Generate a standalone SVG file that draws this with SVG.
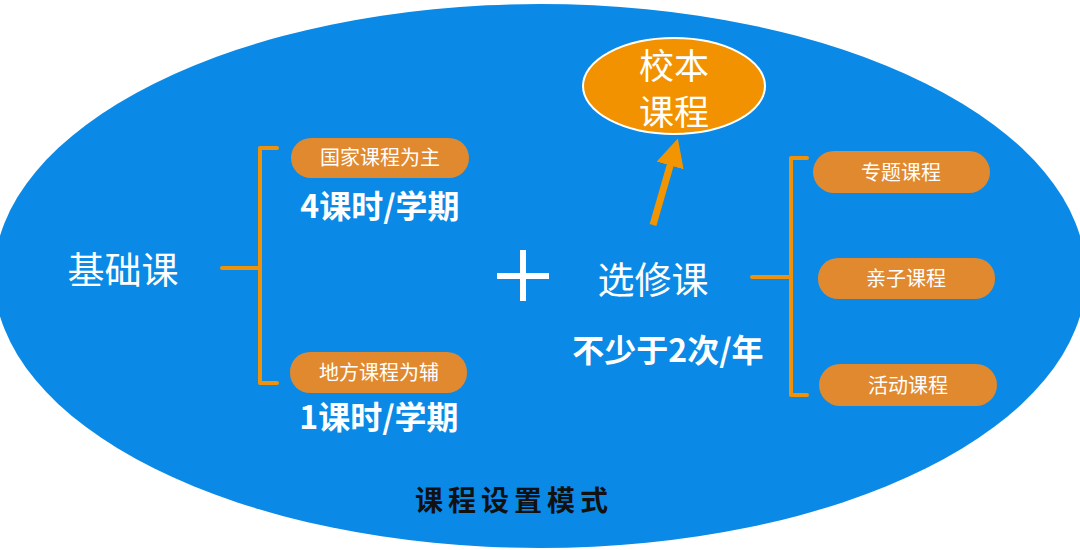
<svg xmlns="http://www.w3.org/2000/svg" width="1080" height="550" viewBox="0 0 1080 550">
<style>
.t{font-family:"Noto Sans CJK SC","Liberation Sans",sans-serif;fill:#fff;text-anchor:middle}
.pill{fill:#E1892E}
.br{fill:none;stroke:#F0910A;stroke-width:4;stroke-linejoin:round;stroke-linecap:round}
</style>
<defs>
<marker id="ah" markerWidth="4" markerHeight="4" refX="2" refY="2" orient="auto" markerUnits="strokeWidth">
<path d="M0,0 L4,2 L0,4 Z" fill="#F39500"/>
</marker>
</defs>
<rect width="1080" height="550" fill="#fff"/>
<ellipse id="bg" cx="540" cy="276" rx="546" ry="272" fill="#0A8AE6"/>
<g id="connectors">
<path class="br" d="M222,268 H258 M277,148 H260 V383 H277"/>
<path class="br" d="M752,277 H791 M807,158 H791 V395 H807"/>
<line x1="653" y1="225" x2="674" y2="152" stroke="#F39500" stroke-width="7" marker-end="url(#ah)"/>
</g>
<g id="jichu"><text class="t" x="123" y="284" font-size="37">基础课</text></g>
<g id="guojia">
<rect class="pill" x="291" y="138" width="178" height="40" rx="20"/>
<text class="t" x="380" y="165" font-size="20">国家课程为主</text>
</g>
<text class="t" x="380" y="218" font-size="32" font-weight="bold">4课时/学期</text>
<g id="difang">
<rect class="pill" x="290" y="352" width="177" height="41" rx="20"/>
<text class="t" x="379" y="380" font-size="20">地方课程为辅</text>
</g>
<text class="t" x="379" y="429" font-size="32" font-weight="bold">1课时/学期</text>
<g id="plus"><path d="M523,250 V301 M497,276 H549" stroke="#fff" stroke-width="6"/></g>
<g id="xuanxiu"><text class="t" x="653" y="294" font-size="37">选修课</text></g>
<text class="t" x="668" y="362" font-size="32" font-weight="bold">不少于2次/年</text>
<g id="xiaoben">
<ellipse cx="674" cy="86" rx="91" ry="48" fill="#F39200" stroke="#fff" stroke-width="2"/>
<text class="t" x="674" y="79" font-size="35">校本</text>
<text class="t" x="674" y="125" font-size="35">课程</text>
</g>
<g id="zhuanti">
<rect class="pill" x="813" y="151" width="177" height="42" rx="21"/>
<text class="t" x="901" y="180" font-size="20">专题课程</text>
</g>
<g id="qinzi">
<rect class="pill" x="818" y="258" width="177" height="41" rx="20"/>
<text class="t" x="906" y="286" font-size="20">亲子课程</text>
</g>
<g id="huodong">
<rect class="pill" x="819" y="364" width="178" height="42" rx="21"/>
<text class="t" x="908" y="393" font-size="20">活动课程</text>
</g>
<text x="514" y="511" font-size="28" font-weight="bold" fill="#111" text-anchor="middle" letter-spacing="5" font-family="'Noto Sans CJK SC',serif">课程设置模式</text>
</svg>
